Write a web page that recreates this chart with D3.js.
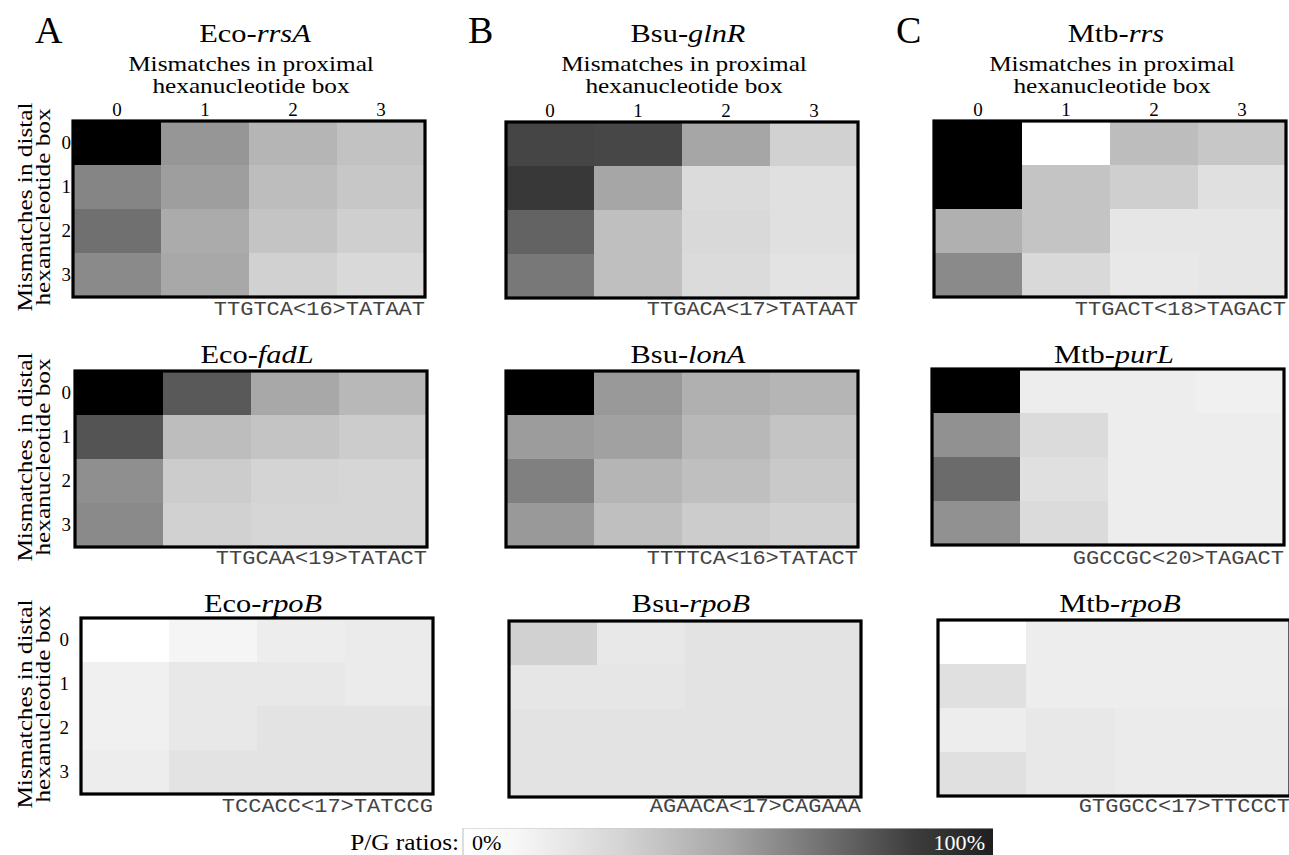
<!DOCTYPE html>
<html><head><meta charset="utf-8">
<script src="https://cdn.jsdelivr.net/npm/d3@7"></script>
<style>body{margin:0;background:#fff}</style>
</head><body><svg id="c" width="1289" height="855"></svg>
<script>
// ---------------- data ----------------
const columnLetters = ["A", "B", "C"];
const organisms = ["Eco", "Bsu", "Mtb"];
const genes = [["rrsA", "glnR", "rrs"], ["fadL", "lonA", "purL"], ["rpoB", "rpoB", "rpoB"]];
const sequences = [
  ["TTGTCA<16>TATAAT", "TTGACA<17>TATAAT", "TTGACT<18>TAGACT"],
  ["TTGCAA<19>TATACT", "TTTTCA<16>TATACT", "GGCCGC<20>TAGACT"],
  ["TCCACC<17>TATCCG", "AGAACA<17>CAGAAA", "GTGGCC<17>TTCCCT"]
];
const mismatchTicks = ["0", "1", "2", "3"];
const xAxisTitle = ["Mismatches in proximal", "hexanucleotide box"];
const yAxisTitle = ["Mismatches in distal", "hexanucleotide box"];
const legendLabel = "P/G ratios:";
const legendTicks = ["0%", "100%"];

// P/G ratio (%) : rows = distal mismatches 0..3, cols = proximal mismatches 0..3
const ecoRrsA = [[100, 41, 29, 24], [48, 38, 26, 22], [56, 33, 23, 19], [46, 34, 18, 15]];
const bsuGlnR = [[73, 72, 35, 18], [78, 35, 14, 12], [61, 25, 15, 12], [53, 25, 14, 11]];
const mtbRrs  = [[100, 0, 26, 22], [100, 23, 19, 12], [31, 23, 10, 10], [46, 15, 9, 10]];
const ecoFadL = [[100, 65, 34, 28], [67, 26, 23, 20], [44, 20, 17, 16], [46, 18, 16, 16]];
const bsuLonA = [[100, 40, 31, 29], [39, 37, 28, 23], [50, 29, 25, 21], [40, 25, 20, 18]];
const mtbPurL = [[100, 7, 7, 6], [43, 14, 7, 7], [58, 12, 7, 7], [43, 14, 7, 7]];
const ecoRpoB = [[0, 4, 7, 8], [6, 9, 9, 8], [6, 9, 11, 11], [7, 11, 11, 11]];
const bsuRpoB = [[18, 9, 11, 11], [10, 10, 11, 11], [11, 11, 11, 11], [11, 11, 11, 11]];
const mtbRpoB = [[0, 7, 7, 7], [12, 7, 7, 7], [7, 9, 8, 8], [12, 9, 8, 8]];
const panelValues = [[ecoRrsA, bsuGlnR, mtbRrs], [ecoFadL, bsuLonA, mtbPurL], [ecoRpoB, bsuRpoB, mtbRpoB]];

// ---------------- layout ----------------
const boxOrigins = [
  [[73, 121], [506, 122], [934, 121]],
  [[75, 371], [506, 371], [932, 369]],
  [[81, 618], [509, 621], [938, 620]]
];
const boxW = 352, boxH = 176;
const titleY = [42, 363, 612];
const seqY = [315, 564, 812];
const SERIF = "'Liberation Serif','Times New Roman',serif";
const MONO = "'Liberation Mono','Courier New',monospace";

const svg = d3.select("#c");
const color = d3.scaleLinear().domain([0, 100]).range(["#ffffff", "#000000"]);

function stretchedText(parent, x, y, sx, size, anchor, family, rotate) {
  return parent.append("text")
    .attr("transform", `translate(${x},${y})` + (rotate ? ` rotate(${rotate})` : "") + ` scale(${sx},1)`)
    .attr("text-anchor", anchor)
    .attr("font-family", family)
    .attr("font-size", size);
}

genes.forEach((rowGenes, r) => {
  rowGenes.forEach((gene, c) => {
    const [x0, y0] = boxOrigins[r][c];
    const vals = panelValues[r][c];
    const g = svg.append("g").attr("transform", `translate(${x0},${y0})`);
    const x = d3.scaleBand().domain(mismatchTicks).range([0, boxW]);
    const y = d3.scaleBand().domain(mismatchTicks).range([0, boxH]);

    const cells = [];
    vals.forEach((row, ri) => row.forEach((v, ci) => cells.push({ r: mismatchTicks[ri], c: mismatchTicks[ci], v })));
    g.selectAll("rect.cell").data(cells).join("rect")
      .attr("class", "cell")
      .attr("x", d => x(d.c)).attr("y", d => y(d.r))
      .attr("width", x.bandwidth() + 0.5).attr("height", y.bandwidth() + 0.5)
      .attr("fill", d => color(d.v));
    g.append("rect").attr("x", 0).attr("y", 0).attr("width", boxW).attr("height", boxH)
      .attr("fill", "none").attr("stroke", "#000").attr("stroke-width", 3.2);

    // title
    const t = stretchedText(svg, x0 + boxW / 2 + 6, titleY[r], 1.17, 26, "middle", SERIF);
    t.append("tspan").text(organisms[c] + "-");
    t.append("tspan").attr("font-style", "italic").text(gene);

    // sequence
    stretchedText(svg, x0 + boxW, seqY[r], 1.1, 20, "end", MONO)
      .attr("fill", "#444").text(sequences[r][c]);

    if (r === 0) {
      // top axis
      const ax = g.append("g").call(d3.axisTop(x).tickSize(0).tickPadding(5));
      ax.select(".domain").remove();
      ax.selectAll("text").attr("font-family", SERIF).attr("font-size", 19).attr("fill", "#000");
      stretchedText(svg, x0 + boxW / 2 + 2, 71, 1.15, 22, "middle", SERIF).text(xAxisTitle[0]);
      stretchedText(svg, x0 + boxW / 2 + 2, 93, 1.15, 22, "middle", SERIF).text(xAxisTitle[1]);
      // column letter
      svg.append("text").attr("x", x0 - 38).attr("y", 43)
        .attr("font-family", SERIF).attr("font-size", 38).text(columnLetters[c]);
    }
    if (c === 0) {
      const axX = r === 2 ? 69 : 71;
      const ay = svg.append("g").attr("transform", `translate(${axX},${y0})`)
        .call(d3.axisLeft(y).tickSize(0).tickPadding(0));
      ay.select(".domain").remove();
      ay.selectAll("text").attr("font-family", SERIF).attr("font-size", 19).attr("fill", "#000");
      const cy = y0 + boxH / 2 - 2;
      stretchedText(svg, 32, cy, 1.15, 22, "middle", SERIF, -90).text(yAxisTitle[0]);
      stretchedText(svg, 50, cy, 1.15, 22, "middle", SERIF, -90).text(yAxisTitle[1]);
    }
  });
});

// ---------------- legend ----------------
const legendStops = [[0, 0], [0.1, 3], [0.3, 17], [0.5, 35], [0.7, 58], [0.85, 76], [1, 88]];
const grad = svg.append("defs").append("linearGradient").attr("id", "pg").attr("x1", "0%").attr("x2", "100%");
grad.selectAll("stop").data(legendStops).join("stop")
  .attr("offset", d => d[0]).attr("stop-color", d => color(d[1]));
const lx = 463, lw = 530, ly = 828;
svg.append("rect").attr("x", lx).attr("y", ly).attr("width", lw).attr("height", 30)
  .attr("fill", "url(#pg)");
svg.append("line").attr("x1", lx).attr("x2", lx).attr("y1", ly).attr("y2", 855)
  .attr("stroke", "#bbb").attr("stroke-width", 1);
svg.append("line").attr("x1", lx).attr("x2", lx + lw).attr("y1", ly + 0.5).attr("y2", ly + 0.5)
  .attr("stroke", "#ccc").attr("stroke-width", 1).attr("opacity", 0.6);
stretchedText(svg, 459, 850, 1.1, 23, "end", SERIF).text(legendLabel);
stretchedText(svg, 472, 850, 1.05, 21, "start", SERIF).text(legendTicks[0]);
stretchedText(svg, 985, 850, 1.05, 21, "end", SERIF).attr("fill", "#fff").text(legendTicks[1]);
</script></body></html>
